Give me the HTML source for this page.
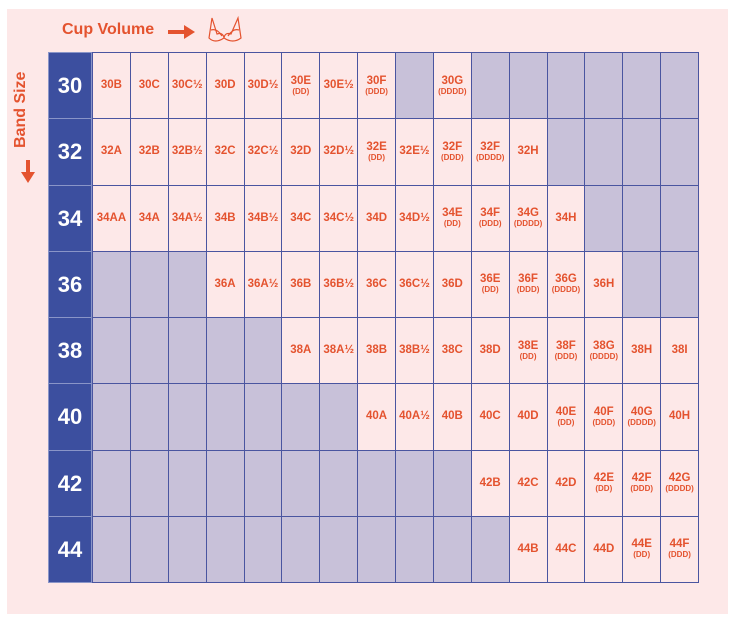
<!DOCTYPE html>
<html><head><meta charset="utf-8"><style>
body{margin:0;width:735px;height:624px;background:#fff;position:relative;overflow:hidden;font-family:"Liberation Sans",sans-serif}
#bg{position:absolute;left:7px;top:9px;width:721px;height:605px;background:#fde8e8}
.c{position:absolute;box-sizing:border-box;border:1px solid #4a55a0;display:flex;flex-direction:column;align-items:center;justify-content:center;color:#e4532f;font-weight:bold;font-size:11.5px;line-height:11px;text-align:center}
.c small{font-size:8px;line-height:9px}
.g{background:#c8c1d9}
.b{background:#3c4f9f;color:#fff;font-size:22px;border-color:#8a95c8}
</style></head><body>
<div id="bg"></div>
<div style="position:absolute;left:62px;top:21px;color:#e4532f;font-weight:bold;font-size:16px">Cup Volume</div>
<div style="position:absolute;left:168px;top:30px;width:18px;height:4px;background:#e4532f"></div>
<div style="position:absolute;left:184px;top:25px;width:0;height:0;border-left:11px solid #e4532f;border-top:7px solid transparent;border-bottom:7px solid transparent"></div>
<svg style="position:absolute;left:207px;top:16px" width="36" height="30" viewBox="0 0 36 30" fill="none" stroke="#e4532f" stroke-width="1.2"><path d="M5 2 L2 22 Q8 28 17 22 Q26 28 34 22 L31 2 L24 18 Q18 16 17 22 Q16 16 10 18 Z"/><path d="M4 14 Q10 12 15 20 M32 14 Q26 12 21 20"/></svg>
<div style="position:absolute;left:12px;top:68px;width:20px;height:80px;"><div style="transform:rotate(-90deg);transform-origin:0 0;position:absolute;left:0;top:80px;white-space:nowrap;color:#e4532f;font-weight:bold;font-size:16px">Band Size</div></div>
<div style="position:absolute;left:26px;top:160px;width:4px;height:14px;background:#e4532f"></div>
<div style="position:absolute;left:21px;top:172px;width:0;height:0;border-top:11px solid #e4532f;border-left:7px solid transparent;border-right:7px solid transparent"></div>
<div id="g"></div>
<script>
var rows=[
["30",["30B","30C","30C½","30D","30D½","30E|DD","30E½","30F|DDD","","30G|DDDD","","","","","",""]],
["32",["32A","32B","32B½","32C","32C½","32D","32D½","32E|DD","32E½","32F|DDD","32F|DDDD","32H","","","",""]],
["34",["34AA","34A","34A½","34B","34B½","34C","34C½","34D","34D½","34E|DD","34F|DDD","34G|DDDD","34H","","",""]],
["36",["","","","36A","36A½","36B","36B½","36C","36C½","36D","36E|DD","36F|DDD","36G|DDDD","36H","",""]],
["38",["","","","","","38A","38A½","38B","38B½","38C","38D","38E|DD","38F|DDD","38G|DDDD","38H","38I"]],
["40",["","","","","","","","40A","40A½","40B","40C","40D","40E|DD","40F|DDD","40G|DDDD","40H"]],
["42",["","","","","","","","","","","42B","42C","42D","42E|DD","42F|DDD","42G|DDDD"]],
["44",["","","","","","","","","","","","44B","44C","44D","44E|DD","44F|DDD"]]];
var h="",x0=48,y0=52,rh=66.25,cw=37.875;
rows.forEach(function(r,i){var y=y0+i*rh;
h+='<div class="c b" style="left:'+x0+'px;top:'+y+'px;width:44px;height:'+(rh+1)+'px">'+r[0]+'</div>';
r[1].forEach(function(t,j){var x=92+j*cw;var p=t.split("|");
h+='<div class="c'+(t?'':' g')+'" style="left:'+x+'px;top:'+y+'px;width:'+(cw+1)+'px;height:'+(rh+1)+'px">'+(p[0]||'')+(p[1]?'<small>('+p[1]+')</small>':'')+'</div>';});});
document.getElementById("g").innerHTML=h;
</script>
</body></html>
